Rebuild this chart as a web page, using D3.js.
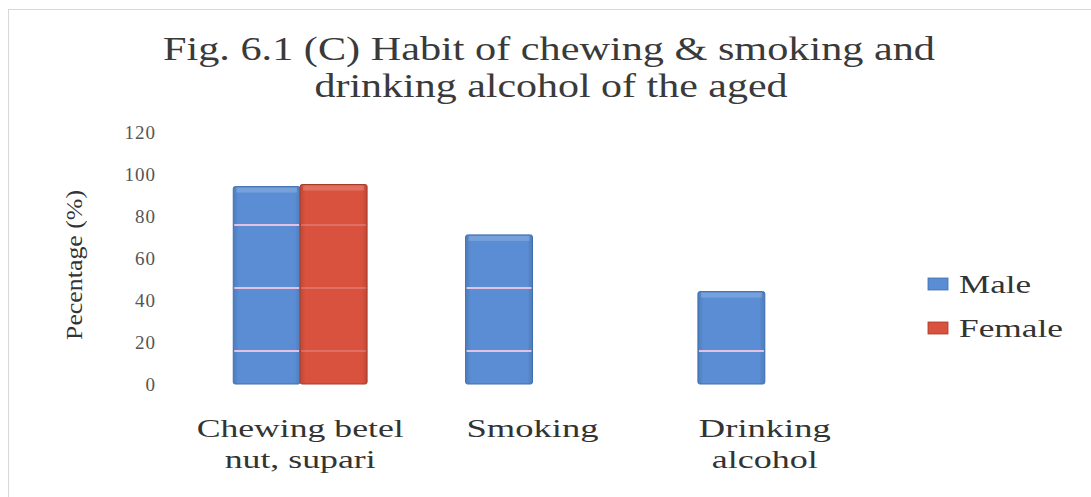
<!DOCTYPE html>
<html>
<head>
<meta charset="utf-8">
<script src="https://cdn.jsdelivr.net/npm/d3@7"></script>
<style>
  html, body { margin: 0; padding: 0; background: #fff; }
  svg { display: block; }
  text { font-family: "Liberation Serif", "Times New Roman", serif; }
</style>
</head>
<body>
<svg id="chart" width="1091" height="497"></svg>
<script>
// Chart data
const titleLines = ["Fig. 6.1 (C) Habit of chewing & smoking and", "drinking alcohol of the aged"];
const categories = ["Chewing betel nut, supari", "Smoking", "Drinking alcohol"];
const categoryLines = [["Chewing betel", "nut, supari"], ["Smoking"], ["Drinking", "alcohol"]];
const seriesNames = ["Male", "Female"];
const maleValues = [94, 71, 44];
const femaleValues = [95, 0, 0];
const yTicks = [0, 20, 40, 60, 80, 100, 120];
const stripeLevels = [15.7, 45.7, 75.7];
const yAxisTitle = "Pecentage (%)";

const colors = { Male: "#5a8dd3", Female: "#d9523d" };
const edge = { Male: "#3f6fb0", Female: "#a93a2a" };

// rendered widths of the wide-set serif lettering
const titleWidths = [772, 473];
const categoryWidths = [[207, 151], [132], [132, 106]];
const legendWidths = { Male: 72, Female: 104 };

const svg = d3.select("#chart");

// faint frame lines at top and left
svg.append("line").attr("x1", 8).attr("x2", 1091).attr("y1", 9.5).attr("y2", 9.5)
  .attr("stroke", "#d8d8d8").attr("stroke-width", 1);
svg.append("line").attr("x1", 8.5).attr("x2", 8.5).attr("y1", 9).attr("y2", 497)
  .attr("stroke", "#d8d8d8").attr("stroke-width", 1);

// gradients for the bevelled bar look
const defs = svg.append("defs");
seriesNames.forEach(s => {
  const g = defs.append("linearGradient").attr("id", "grad-" + s)
    .attr("x1", 0).attr("x2", 1).attr("y1", 0).attr("y2", 0);
  g.append("stop").attr("offset", "0%").attr("stop-color", d3.color(colors[s]).darker(0.35));
  g.append("stop").attr("offset", "8%").attr("stop-color", colors[s]);
  g.append("stop").attr("offset", "92%").attr("stop-color", colors[s]);
  g.append("stop").attr("offset", "100%").attr("stop-color", d3.color(colors[s]).darker(0.35));
});

// Title
svg.append("g").selectAll("text").data(titleLines).join("text")
  .attr("x", (d, i) => i === 0 ? 549 : 551).attr("y", (d, i) => 60 + i * 37)
  .attr("text-anchor", "middle")
  .attr("font-size", 33).attr("fill", "#3a3a3a")
  .attr("textLength", (d, i) => titleWidths[i]).attr("lengthAdjust", "spacingAndGlyphs")
  .text(d => d);

// Scales
const y = d3.scaleLinear().domain([0, 120]).range([384, 132]);
const x0 = d3.scaleBand().domain(categories).range([184, 881])
  .paddingInner(0.424).paddingOuter(0.212);
const x1 = d3.scaleBand().domain(seriesNames).range([0, x0.bandwidth()]);

// Y axis (labels only)
const yAxis = d3.axisLeft(y).tickValues(yTicks).tickSize(0).tickPadding(0);
const yg = svg.append("g").attr("transform", "translate(156,0)").call(yAxis);
yg.select(".domain").remove();
yg.selectAll("text")
  .attr("font-family", "'Liberation Serif', serif")
  .attr("font-size", 19).attr("fill", "#555").attr("dy", "0.35em")
  .attr("letter-spacing", 1);

svg.append("text")
  .attr("transform", "translate(82,265) rotate(-90)")
  .attr("text-anchor", "middle")
  .attr("font-size", 24).attr("fill", "#333")
  .attr("textLength", 150).attr("lengthAdjust", "spacingAndGlyphs")
  .text(yAxisTitle);

// Bars
const rows = categories.map((c, i) => ({ cat: c, Male: maleValues[i], Female: femaleValues[i] }));
const groups = svg.append("g").selectAll("g").data(rows).join("g")
  .attr("transform", d => `translate(${x0(d.cat)},0)`);

groups.each(function(row) {
  const g = d3.select(this);
  seriesNames.forEach(s => {
    const v = row[s];
    if (!v) return;
    const bx = x1(s), bw = x1.bandwidth();
    g.append("rect")
      .attr("x", bx).attr("y", y(v)).attr("width", bw).attr("height", y(0) - y(v))
      .attr("rx", 2)
      .attr("fill", `url(#grad-${s})`)
      .attr("stroke", edge[s]).attr("stroke-width", 1);
    // light top bevel
    g.append("rect")
      .attr("x", bx + 3).attr("y", y(v) + 1).attr("width", bw - 6).attr("height", 5)
      .attr("fill", "#fff").attr("opacity", 0.18);
    // pale horizontal stripes across the bar
    stripeLevels.filter(l => l < v).forEach(l => {
      g.append("line")
        .attr("x1", bx + 1).attr("x2", bx + bw - 1)
        .attr("y1", y(l)).attr("y2", y(l))
        .attr("stroke", "#f3c8e6").attr("stroke-width", 2)
        .attr("opacity", s === "Male" ? 0.9 : 0.25);
    });
  });
});

// Category labels
const labelG = svg.append("g").selectAll("g").data(categories).join("g")
  .attr("transform", d => `translate(${x0(d) + x0.bandwidth() / 2},0)`);
labelG.each(function(d, ci) {
  d3.select(this).selectAll("text").data(categoryLines[ci]).join("text")
    .attr("x", 0).attr("y", (t, i) => 437 + i * 31)
    .attr("text-anchor", "middle")
    .attr("font-size", 25).attr("fill", "#333")
    .attr("textLength", (t, i) => categoryWidths[ci][i]).attr("lengthAdjust", "spacingAndGlyphs")
    .text(t => t);
});

// Legend
const legend = svg.append("g").selectAll("g").data(seriesNames).join("g")
  .attr("transform", (d, i) => `translate(928,${284 + i * 44})`);
legend.append("rect")
  .attr("x", 0).attr("y", -6).attr("width", 20).attr("height", 12)
  .attr("fill", d => colors[d]).attr("stroke", d => edge[d]).attr("stroke-width", 0.8);
legend.append("text")
  .attr("x", 31).attr("y", 0).attr("dy", "0.35em")
  .attr("font-size", 25).attr("fill", "#333")
  .attr("textLength", d => legendWidths[d]).attr("lengthAdjust", "spacingAndGlyphs")
  .text(d => d);
</script>
</body>
</html>
